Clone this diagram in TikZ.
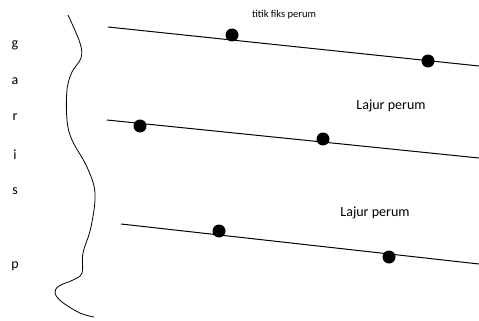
\documentclass[tikz,border=0pt]{standalone}
\usepackage{fontspec}
\setmainfont{Carlito}
\begin{document}
\begin{tikzpicture}[x=1pt,y=-1pt,
  lane/.style={line width=1pt,black},
  dot/.style={circle,fill=black,inner sep=0pt,minimum size=13pt},
  lbl/.style={font=\fontsize{14}{16}\selectfont,inner sep=0pt},
  letter/.style={font=\fontsize{14}{16}\selectfont,inner sep=0pt}]
\useasboundingbox (0,0) rectangle (479,321);
% lines
\coordinate (l1a) at (108,27); \coordinate (l1b) at (479,66);
\coordinate (l2a) at (107,120); \coordinate (l2b) at (479,158);
\coordinate (l3a) at (121,224); \coordinate (l3b) at (479,264);
\draw[lane] (l1a) -- (l1b);
\draw[lane] (l2a) -- (l2b);
\draw[lane] (l3a) -- (l3b);
% dots
\node[dot] (d1) at (232,35) {};
\node[dot] (d2) at (428,61) {};
\node[dot] (d3) at (140,126) {};
\node[dot] (d4) at (323,139) {};
\node[dot] (d5) at (219,231) {};
\node[dot] (d6) at (389,257) {};
% labels
\node[lbl,font=\fontsize{10.5}{12}\selectfont] (t1) at (284,15) {titik fiks perum};
\node[lbl] (t2) at (391,106) {Lajur perum};
\node[lbl] (t3) at (375,213) {Lajur perum};
% letters
\node[letter] (g) at (15,45) {g};
\node[letter] (a) at (15,81) {a};
\node[letter] (r) at (15,117) {r};
\node[letter] (i) at (15,155) {i};
\node[letter] (s) at (15,191) {s};
\node[letter] (p) at (15,266) {p};
% wavy line
\draw[line width=0.8pt] plot[smooth,tension=0.6] coordinates {
 (68,15) (80,43) (81,58) (72,72) (67,90) (67,120) (72,140) (87,167)
 (95,193) (91,227) (83,253) (82,273) (73,280) (59,286) (55,293)
 (62,302) (80,313) (94,317)};
\end{tikzpicture}
\end{document}
